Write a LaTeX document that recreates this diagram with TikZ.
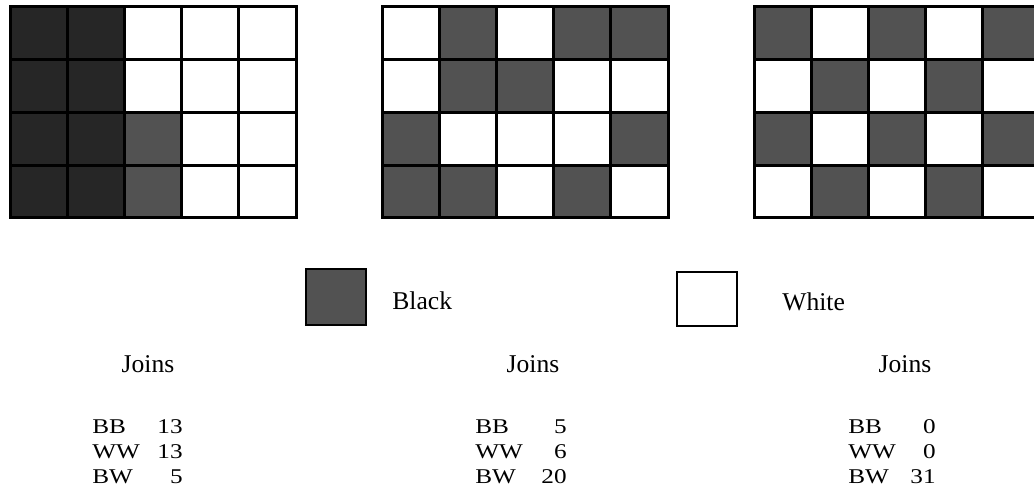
\documentclass[tikz,border=0pt]{standalone}
\usepackage{fontspec}
\setmainfont{Liberation Serif}
\newfontfamily\joinsfont{Liberation Serif}[FakeStretch=1.2]

\begin{document}
\begin{tikzpicture}[x=0.5pt, y=-0.5pt, font=\fontsize{12.8}{15}\selectfont,
    darkcell/.style={fill=black!85},
    greycell/.style={fill=black!68},
    gridline/.style={line width=1.5pt},
    tabtext/.style={font=\joinsfont\fontsize{10.5}{12}\selectfont, inner sep=0pt}]
\useasboundingbox (0,0) rectangle (1034,496);
\clip (0,0) rectangle (1034,496);
% shaded cells: grid origin / column / row / style
\foreach \gx/\c/\r/\shade in {%
    10/1/1/darkcell, 10/2/1/darkcell, 10/1/2/darkcell, 10/2/2/darkcell,
    10/1/3/darkcell, 10/2/3/darkcell, 10/3/3/greycell,
    10/1/4/darkcell, 10/2/4/darkcell, 10/3/4/greycell,
    382/2/1/greycell, 382/4/1/greycell, 382/5/1/greycell,
    382/2/2/greycell, 382/3/2/greycell,
    382/1/3/greycell, 382/5/3/greycell,
    382/1/4/greycell, 382/2/4/greycell, 382/4/4/greycell,
    754/1/1/greycell, 754/3/1/greycell, 754/5/1/greycell,
    754/2/2/greycell, 754/4/2/greycell,
    754/1/3/greycell, 754/3/3/greycell, 754/5/3/greycell,
    754/2/4/greycell, 754/4/4/greycell%
} {
    \fill[\shade] (\gx+57.2*\c-57.2, 7+52.75*\r-52.75) rectangle ++(57.2,52.75);
}
% grid lines
\foreach \gx in {10,382,754} {
    \foreach \i in {1,...,4}
        \draw[gridline] (\gx+57.2*\i,7) -- (\gx+57.2*\i,218);
    \foreach \j in {1,...,3}
        \draw[gridline] (\gx,7+52.75*\j) -- (\gx+286,7+52.75*\j);
    \draw[gridline] (\gx,7) rectangle (\gx+286,218);
}
% legend
\draw[line width=1pt, greycell] (306,269) rectangle (366,325);
\node[anchor=base west, inner sep=0pt] (black) at (392,310) {Black};
\draw[line width=1pt] (677,272) rectangle (737,326);
\node[anchor=base west, inner sep=0pt] (white) at (782,311) {White};
% join counts
\foreach \n/\cx/\lx/\rx/\bb/\ww/\bw in {1/148/92/183/13/13/5, 2/533/475/567/5/6/20, 3/905/848/936/0/0/31} {
    \node[anchor=base, inner sep=0pt] (joins\n) at (\cx,373) {Joins};
    \node[tabtext, anchor=base west] (bb\n) at (\lx,434) {BB};
    \node[tabtext, anchor=base east] (bbval\n) at (\rx,434) {\bb};
    \node[tabtext, anchor=base west] (ww\n) at (\lx,459) {WW};
    \node[tabtext, anchor=base east] (wwval\n) at (\rx,459) {\ww};
    \node[tabtext, anchor=base west] (bw\n) at (\lx,484) {BW};
    \node[tabtext, anchor=base east] (bwval\n) at (\rx,484) {\bw};
}
\end{tikzpicture}
\end{document}
